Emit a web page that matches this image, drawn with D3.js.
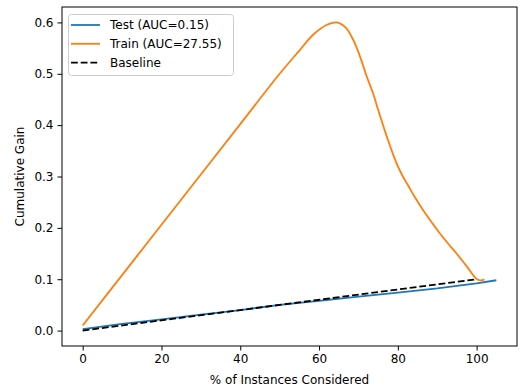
<!DOCTYPE html>
<html>
<head>
<meta charset="utf-8">
<script src="https://cdn.jsdelivr.net/npm/d3@7"></script>
<style>
  body { margin: 0; background: #fff; }
  text { font-family: "DejaVu Sans", sans-serif; fill: #000; }
</style>
</head>
<body>
<script>
// cumulative gain curves

var testX = [0, 10, 20, 30, 40, 50, 60, 70, 80, 90, 100, 105];
var testY = [0.003, 0.013, 0.022, 0.031, 0.040, 0.050, 0.058, 0.066, 0.074, 0.082, 0.092, 0.098];

var trainX = [0, 10, 20, 30, 40, 50, 55, 58.5, 61.9, 64.4, 66.9, 68.2, 69.5, 70.7, 72, 73.7, 75, 76.2, 77.5, 78.8, 80, 81.2, 82.5, 84.3, 86.4, 88.5, 90.6, 92.7, 94.8, 97.5, 100.3, 102];
var trainY = [0.010, 0.108, 0.206, 0.304, 0.402, 0.500, 0.545, 0.576, 0.595, 0.600, 0.589, 0.573, 0.552, 0.527, 0.497, 0.462, 0.430, 0.401, 0.371, 0.343, 0.320, 0.301, 0.284, 0.260, 0.235, 0.212, 0.190, 0.170, 0.151, 0.125, 0.099, 0.099];

var baseX = [0, 100];
var baseY = [0, 0.1];

var xTicks = [0, 20, 40, 60, 80, 100];
var yTicks = [0.0, 0.1, 0.2, 0.3, 0.4, 0.5, 0.6];

var legendItems = [
    {label: "Test (AUC=0.15)", color: "#1f77b4", dash: null},
    {label: "Train (AUC=27.55)", color: "#ff7f0e", dash: null},
    {label: "Baseline", color: "#000", dash: "6.8,2.9"}
];

function draw_chart() {
    var width = 520;
    var height = 392;
    var left = 62, right = 517, top = 7, bottom = 346;

    var svg = d3.select("body").append("svg")
                .attr("width", width)
                .attr("height", height);

    var x = d3.scaleLinear().domain([-5.25, 110.25]).range([left, right]);
    var y = d3.scaleLinear().domain([-0.03, 0.63]).range([bottom, top]);

    // axes
    var xAxis = svg.append("g")
        .attr("transform", "translate(0," + bottom + ")")
        .call(d3.axisBottom(x).tickValues(xTicks).tickSize(4.5).tickPadding(4).tickFormat(d3.format("d")));
    var yAxis = svg.append("g")
        .attr("transform", "translate(" + left + ",0)")
        .call(d3.axisLeft(y).tickValues(yTicks).tickSize(4.5).tickPadding(4).tickFormat(d3.format(".1f")));

    [xAxis, yAxis].forEach(function(g) {
        g.select(".domain").remove();
        g.selectAll("line").attr("stroke", "#000").attr("stroke-width", 1);
        g.selectAll("text").style("font-size", "12px").attr("fill", "#000")
            .style("font-family", "DejaVu Sans, sans-serif");
    });

    // frame
    svg.append("rect")
        .attr("x", left).attr("y", top)
        .attr("width", right - left).attr("height", bottom - top)
        .attr("fill", "none").attr("stroke", "#000").attr("stroke-width", 1);

    var line = d3.line()
        .x(function(d) { return x(d[0]); })
        .y(function(d) { return y(d[1]); });
    var smooth = d3.line()
        .x(function(d) { return x(d[0]); })
        .y(function(d) { return y(d[1]); })
        .curve(d3.curveCatmullRom.alpha(0.5));

    svg.append("path")
        .datum(d3.zip(testX, testY))
        .attr("d", line)
        .attr("fill", "none").attr("stroke", "#1f77b4").attr("stroke-width", 1.8);

    svg.append("path")
        .datum(d3.zip(trainX, trainY))
        .attr("d", smooth)
        .attr("fill", "none").attr("stroke", "#ff7f0e").attr("stroke-width", 1.8);

    svg.append("path")
        .datum(d3.zip(baseX, baseY))
        .attr("d", line)
        .attr("fill", "none").attr("stroke", "#000").attr("stroke-width", 1.8)
        .attr("stroke-dasharray", "6.8,2.9");

    // axis labels
    svg.append("text")
        .attr("x", (left + right) / 2).attr("y", 384)
        .attr("text-anchor", "middle")
        .style("font-size", "12px")
        .text("% of Instances Considered");
    svg.append("text")
        .attr("transform", "translate(24," + ((top + bottom) / 2) + ") rotate(-90)")
        .attr("text-anchor", "middle")
        .style("font-size", "12px")
        .text("Cumulative Gain");

    // legend
    var lg = svg.append("g");
    lg.append("rect")
        .attr("x", 68.5).attr("y", 14.5)
        .attr("width", 165).attr("height", 61)
        .attr("rx", 3)
        .attr("fill", "#fff").attr("fill-opacity", 0.8)
        .attr("stroke", "#ccc").attr("stroke-width", 1);
    legendItems.forEach(function(d, i) {
        var cy = 25 + i * 18.8;
        lg.append("line")
            .attr("x1", 71).attr("x2", 100)
            .attr("y1", cy).attr("y2", cy)
            .attr("stroke", d.color).attr("stroke-width", 1.8)
            .attr("stroke-dasharray", d.dash);
        lg.append("text")
            .attr("x", 110).attr("y", cy + 4.3)
            .style("font-size", "12px")
            .text(d.label);
    });
}

document.addEventListener("DOMContentLoaded", draw_chart());
</script>
</body>
</html>
